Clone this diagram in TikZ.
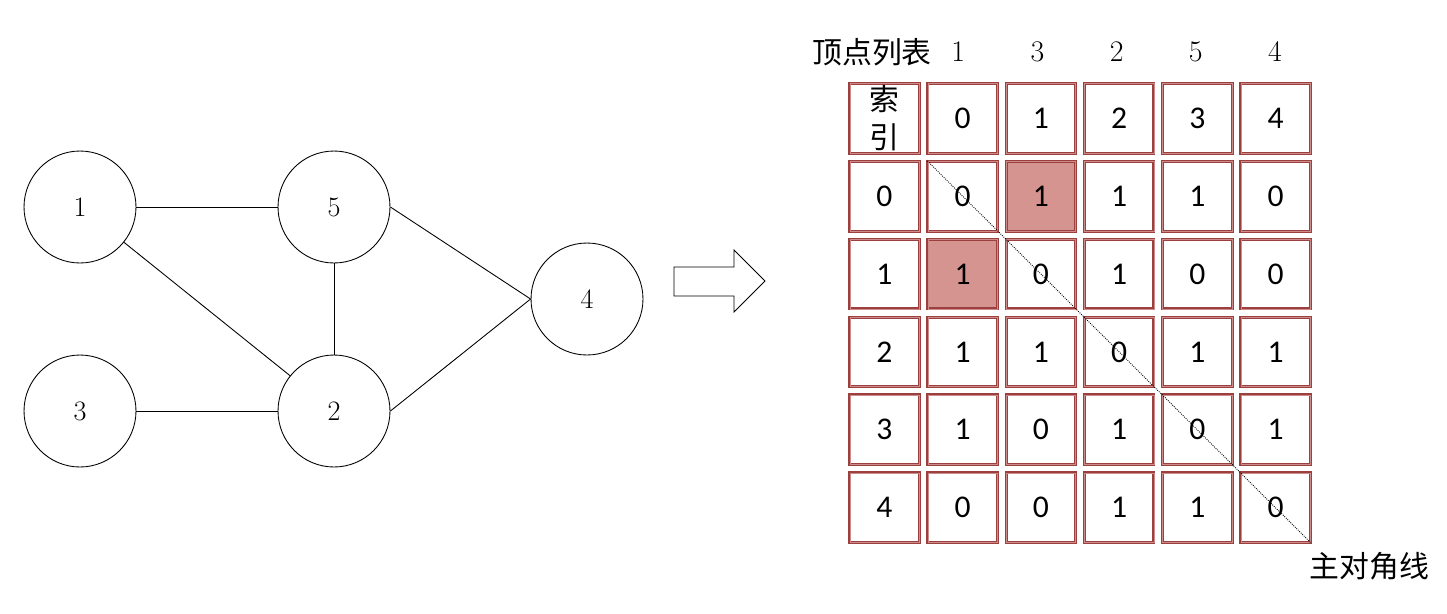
\documentclass[tikz,border=0pt]{standalone}
\usepackage{fontspec}
\newfontfamily\cellfont{Carlito}
\newfontfamily\cjkfont{Noto Sans CJK SC}
\usetikzlibrary{positioning}
\definecolor{cellRed}{RGB}{155,64,62}
\definecolor{cellPink}{RGB}{205,140,137}
\definecolor{hlFill}{RGB}{214,148,144}

\begin{document}
\begin{tikzpicture}[x=0.02cm, y=-0.02cm,
    vertex/.style={circle, draw, line width=0.5pt, minimum size=2.24cm, inner sep=0pt, font=\fontsize{16}{18}\selectfont},
    cell/.style={draw=cellRed, double=cellPink, double distance=0.3pt, line width=0.7pt,
      minimum size=1.39cm, inner sep=0pt, font=\cellfont\fontsize{18}{20}\selectfont},
    fill0/.style={},
    fill1/.style={fill=hlFill},
    head/.style={inner sep=0pt, font=\fontsize{17}{19}\selectfont},
    cjk/.style={inner sep=0pt, font=\cjkfont\fontsize{17}{19}\selectfont}]
    \useasboundingbox (0,0) rectangle (1447,613);
    % Undirected graph on the left
    \node[vertex] (v1) at (80,207) {1};
    \node[vertex] (v5) at (334,207) {5};
    \node[vertex] (v3) at (80,411) {3};
    \node[vertex] (v2) at (334,411) {2};
    \node[vertex] (v4) at (587,299) {4};
    \draw[line width=0.5pt] (v1) -- (v5);
    \draw[line width=0.5pt] (v1) -- (v2);
    \draw[line width=0.5pt] (v5) -- (v2);
    \draw[line width=0.5pt] (v3) -- (v2);
    \draw[line width=0.5pt] (v5.east) -- (v4.west);
    \draw[line width=0.5pt] (v2.east) -- (v4.west);
    % Block arrow
    \draw[line width=0.5pt] (674,267) -- (734,267) -- (734,250) -- (765,281)
      -- (734,312) -- (734,296) -- (674,296) -- cycle;
    % Vertex list above the matrix
    \node[cjk] (vlist) at (872,52) {顶点列表};
    \foreach \v [count=\c] in {1,3,2,5,4} {
      \node[head] (h-\c) at (879+79.2*\c,52) {\v};
    }
    % Index row and index column
    \node[cell, font=\cjkfont\fontsize{17}{21.5}\selectfont, align=center] (idx) at (884.5,118.5) {索\\引};
    \foreach \c in {1,...,5} {
      \pgfmathtruncatemacro{\lab}{\c-1}
      \node[cell] (top-\c) at (884.5+78.2*\c,118.5) {\lab};
    }
    % Adjacency matrix
    \foreach \r/\vals in {0/{0,1,1,1,0},1/{1,0,1,0,0},2/{1,1,0,1,1},3/{1,0,1,0,1},4/{0,0,1,1,0}} {
      \node[cell] (left-\r) at (884.5,196.3+77.8*\r) {\r};
      \foreach \v [count=\c] in \vals {
        \pgfmathtruncatemacro{\hl}{(\r==0 && \c==2) || (\r==1 && \c==1)}
        \node[cell, fill\hl] (m-\r-\c) at (884.5+78.2*\c,196.3+77.8*\r) {\v};
      }
    }
    % Main diagonal
    \draw[dash pattern=on 0.5pt off 0.7pt, line width=0.5pt] (m-0-1.north west) -- (m-4-5.south east);
    \node[cjk, below right=5pt and -1pt of m-4-5.south east] (diag) {主对角线};
  \end{tikzpicture}
\end{document}
